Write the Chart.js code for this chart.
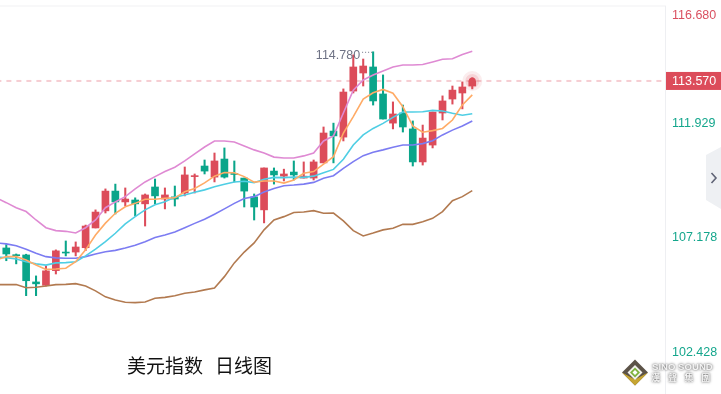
<!DOCTYPE html>
<html><head><meta charset="utf-8">
<style>html,body{margin:0;padding:0;background:#fff}canvas{display:block}</style>
<script src="https://cdn.jsdelivr.net/npm/chart.js@4"></script>
</head><body><canvas id="c" width="721" height="394"></canvas>
<script>
const open_=[106.64,106.36,106.35,105.23,105.09,105.70,106.47,106.47,106.65,107.47,108.18,109.00,108.55,108.63,108.47,109.17,108.67,108.76,108.92,109.60,110.04,109.58,110.33,109.73,109.54,108.76,108.22,109.83,109.62,109.79,109.54,109.54,110.17,111.49,111.24,113.15,113.90,114.15,113.03,111.82,112.24,111.58,110.21,110.91,112.24,112.82,113.07,113.36];
const close_=[106.39,106.32,105.28,105.15,105.69,106.52,106.43,106.68,107.55,108.13,109.00,108.55,108.67,108.47,108.84,108.80,108.84,108.67,109.67,109.64,109.83,110.25,109.58,109.69,109.00,108.34,109.96,109.67,109.71,109.67,109.62,110.21,111.41,111.29,113.11,114.15,114.19,112.74,111.99,112.20,111.66,110.21,111.20,112.28,112.74,113.19,113.32,113.57];
const high_=[106.78,106.39,106.38,105.48,105.89,106.56,106.93,106.89,107.59,108.22,109.09,109.29,109.13,108.72,108.88,109.50,109.13,109.21,110.00,109.71,110.29,110.58,110.79,110.25,109.54,108.88,109.96,109.96,109.91,110.25,110.21,110.29,111.66,111.82,113.24,114.65,114.48,114.78,113.82,112.70,112.57,111.91,111.74,112.28,112.95,113.36,113.53,113.70];
const low_=[106.11,105.98,104.66,104.66,105.06,105.56,106.31,106.31,106.53,107.47,108.09,108.05,108.38,107.97,107.55,108.47,108.26,108.38,108.80,108.92,109.71,109.38,109.54,109.38,108.34,107.80,107.68,109.29,109.42,109.46,109.54,109.46,110.17,110.17,111.08,113.07,113.36,112.57,111.99,111.58,111.45,110.04,110.08,110.79,111.95,112.61,112.41,113.24];
const bollUpper=[108.71,108.52,108.31,108.15,107.80,107.48,107.36,107.33,107.26,107.48,107.80,108.31,108.55,108.77,109.09,109.38,109.60,109.81,109.99,110.25,110.54,110.83,111.08,111.08,111.04,110.87,110.71,110.58,110.41,110.37,110.37,110.46,110.58,111.08,111.29,112.24,113.19,113.61,113.82,113.98,114.15,114.23,114.23,114.25,114.36,114.47,114.49,114.67,114.80];
const maFast=[106.14,106.28,106.28,106.14,105.93,105.75,105.77,105.80,106.07,106.56,107.18,107.67,108.08,108.35,108.49,108.66,108.66,108.70,108.72,108.97,109.11,109.34,109.62,109.77,109.76,109.60,109.37,109.42,109.42,109.33,109.46,109.74,109.81,110.12,110.43,111.41,112.09,112.82,113.08,113.22,113.06,112.50,111.70,111.44,111.51,111.60,111.95,112.57,112.99];
const maMid=[106.26,106.24,106.18,106.07,105.98,105.93,106.02,106.03,106.07,106.31,106.59,106.90,107.25,107.64,107.94,108.22,108.43,108.56,108.75,108.84,108.95,109.05,109.18,109.28,109.38,109.41,109.35,109.49,109.57,109.56,109.58,109.57,109.62,109.76,109.90,110.32,110.91,111.33,111.60,111.81,112.06,112.28,112.28,112.29,112.35,112.32,112.23,112.15,112.21];
const maSlow=[106.85,106.81,106.73,106.59,106.42,106.28,106.23,106.21,106.21,106.28,106.39,106.48,106.54,106.64,106.75,106.90,107.07,107.18,107.30,107.48,107.66,107.83,108.04,108.26,108.49,108.69,108.77,108.96,109.11,109.22,109.25,109.29,109.36,109.53,109.64,109.94,110.22,110.47,110.61,110.71,110.82,110.91,110.91,110.97,111.09,111.33,111.53,111.70,111.91];
const bollLower=[105.12,105.12,105.12,104.99,105.01,105.06,105.12,105.13,105.16,105.06,104.86,104.61,104.48,104.39,104.37,104.40,104.55,104.59,104.66,104.76,104.81,104.90,104.98,105.45,106.02,106.47,106.85,107.39,107.80,107.94,108.11,108.13,108.19,108.08,108.09,107.76,107.36,107.14,107.26,107.39,107.46,107.62,107.62,107.73,107.87,108.15,108.60,108.77,109.02];
const tickValues=[116.680,113.570,111.929,107.178,102.428];
const lastPrice=113.570, peakPrice=114.780, peakIndex=37;
const titleLeft='美元指数', titleRight='日线图';
const logoEn='SINO SOUND', logoZh=['漢','聲','集','團'];

const RED='#DC4C5A', GREEN='#0AA58A', REDTXT='#DA5060', GREENTXT='#14A68C';
const candleColors=open_.map((o,i)=>close_[i]>=o?RED:GREEN);
const lineSet=(vals,color)=>({type:'line',data:vals.map((y,i)=>({x:i-1,y})),borderColor:color,borderWidth:1.6,pointRadius:0,tension:0,order:1});
const lastIdx=open_.length-1;

const decor={
 id:'decor',
 beforeDraw(chart){
  const s=chart.scales.y;
  for(const it of s.getLabelItems()){
    if(it._moved) continue; it._moved=true;
    const t=it.options.translation, v=Number(it.label);
    if(v===lastPrice){
      t[1]+=0.5;
      it.options.backdrop={left:666-t[0],top:-9.5,width:55,height:18,color:RED};
    } else if(v===tickValues[0]) t[1]+=10;
    else t[1]+=3;
  }
 },
 afterDraw(chart){
  const c=chart.ctx,x=chart.scales.x,y=chart.scales.y;
  c.save();
  // peak marker
  const px=x.getPixelForValue(peakIndex),py=y.getPixelForValue(peakPrice);
  c.fillStyle='#6F7385';c.font='12.5px "Liberation Sans"';c.textAlign='right';c.textBaseline='middle';
  c.fillText(peakPrice.toFixed(3),px-13,py+3.5);
  c.strokeStyle='#6F7385';c.lineWidth=1;c.setLineDash([1,2]);
  c.beginPath();c.moveTo(px-11,py+0.5);c.lineTo(px,py+0.5);c.stroke();c.setLineDash([]);
  // caption
  c.fillStyle='#111';c.font='19px "Noto Sans CJK SC"';c.textAlign='left';
  c.fillText(titleLeft,127,366);c.fillText(titleRight,215,366);
  // side tab
  c.fillStyle='#EEF0F3';c.beginPath();c.moveTo(721,147);c.lineTo(706,155);c.lineTo(706,200);c.lineTo(721,209);c.closePath();c.fill();
  c.strokeStyle='#5F6375';c.lineWidth=1.6;c.beginPath();c.moveTo(711.5,173);c.lineTo(716,178);c.lineTo(711.5,183);c.stroke();
  // logo
  const lx=635,ly=372.5;
  const dia=(h,col)=>{c.fillStyle=col;c.beginPath();c.moveTo(lx,ly-h);c.lineTo(lx+h,ly);c.lineTo(lx,ly+h);c.lineTo(lx-h,ly);c.closePath();c.fill();};
  dia(13,'#5C5348');
  c.fillStyle='#C6A532';c.beginPath();c.moveTo(lx-13,ly);c.lineTo(lx,ly+13);c.lineTo(lx+13,ly);c.lineTo(lx,ly+7);c.closePath();c.fill();
  dia(7.5,'#F3F3EE');dia(5,'#7FB23F');dia(2.5,'#FFFFFF');
  c.shadowColor='rgba(50,50,50,1)';c.shadowBlur=2.5;c.fillStyle='#F4F4F4';
  c.font='bold 9.6px "Liberation Sans"';c.textAlign='left';c.fillText(logoEn,652,367);
  c.font='bold 9px "Noto Sans CJK TC"';c.textAlign='center';
  logoZh.forEach((t,i)=>c.fillText(t,655.7+16.7*i,378));
  c.restore();
 }
};

new Chart(document.getElementById('c'),{
 data:{datasets:[
  lineSet(maFast,'#FFAB66'),lineSet(maMid,'#4FCEE4'),lineSet(maSlow,'#7C7CF2'),lineSet(bollUpper,'#DF8AD3'),lineSet(bollLower,'#B27A50'),
  {type:'line',data:[{x:-1,y:lastPrice},{x:70,y:lastPrice}],borderColor:'#F6CDD2',borderWidth:2,borderDash:[5,5],pointRadius:0,order:6},
  {type:'bar',data:open_.map((o,i)=>({x:i,y:[o,close_[i]]})),backgroundColor:candleColors,barThickness:7,grouped:false,order:2},
  {type:'bar',data:open_.map((o,i)=>({x:i,y:[low_[i],high_[i]]})),backgroundColor:candleColors,barThickness:1.4,grouped:false,order:3},
  {type:'line',data:[{x:lastIdx,y:lastPrice}],pointRadius:10,pointBorderWidth:0,pointBackgroundColor:'rgba(220,76,90,.10)',showLine:false,order:0},
  {type:'line',data:[{x:lastIdx,y:lastPrice}],pointRadius:7,pointBorderWidth:0,pointBackgroundColor:'rgba(220,76,90,.15)',showLine:false,order:0},
  {type:'line',data:[{x:lastIdx,y:lastPrice}],pointRadius:3.5,pointBorderWidth:0,pointBackgroundColor:RED,showLine:false,order:0}
 ]},
 options:{
  responsive:false,animation:false,
  layout:{autoPadding:false,padding:{top:6,left:0,right:0,bottom:0}},
  plugins:{legend:{display:false},tooltip:{enabled:false}},
  scales:{
   x:{type:'linear',position:'top',offset:false,min:-0.635,max:66.44,
      afterFit:s=>{s.height=0;s.paddingLeft=0;s.paddingRight=0;},
      ticks:{display:false},grid:{display:false,drawTicks:false},border:{color:'#F8F8F9',width:2}},
   y:{position:'right',min:100.58,max:116.68,
      afterBuildTicks:s=>{s.ticks=tickValues.map(value=>({value}));},
      afterFit:s=>{s.width=56;s.paddingTop=0;s.paddingBottom=0;},
      grid:{display:false,drawTicks:false},border:{color:'#EEEFF2',width:1},
      ticks:{autoSkip:false,padding:7,crossAlign:'near',
        font:{family:'"Liberation Sans"',size:12.5},
        callback:v=>Number(v).toFixed(3),
        color:ctx=>{const v=ctx.tick.value;return v===lastPrice?'#FFFFFF':(v>lastPrice?REDTXT:GREENTXT);}}}
  }
 },
 plugins:[decor]
});
</script></body></html>
